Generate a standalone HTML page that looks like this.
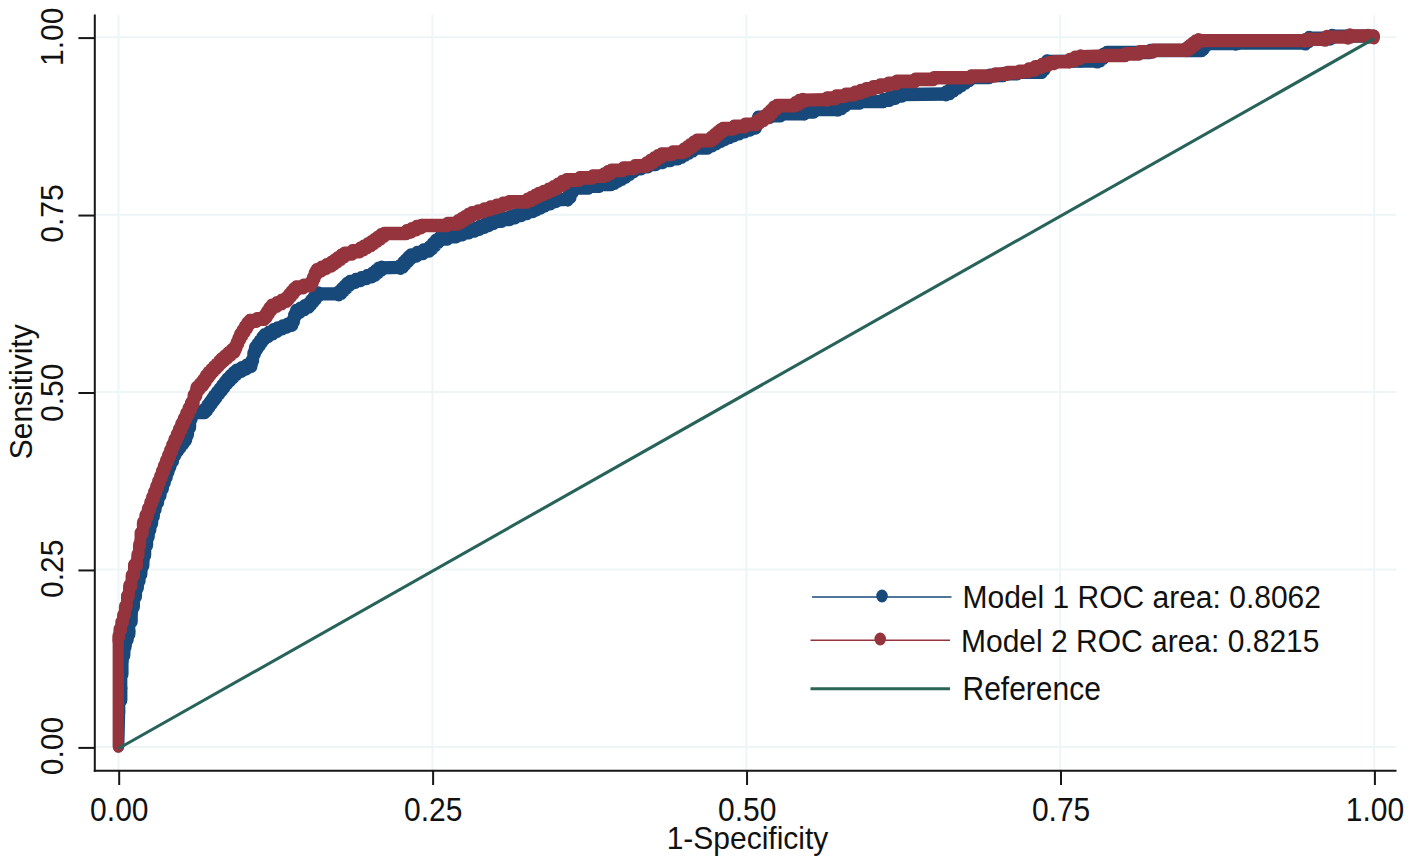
<!DOCTYPE html>
<html><head><meta charset="utf-8"><title>ROC</title>
<style>
html,body{margin:0;padding:0;background:#fff;}
body{width:1416px;height:860px;overflow:hidden;}
svg{display:block;}
text{font-family:"Liberation Sans",sans-serif;font-size:30px;fill:#111;}
</style></head><body>
<svg width="1416" height="860" viewBox="0 0 1416 860">
<rect width="1416" height="860" fill="#ffffff"/>
<g stroke="#edf5f6" stroke-width="2" fill="none">
<line x1="95" y1="747.00" x2="1396.5" y2="747.00"/>
<line x1="95" y1="569.55" x2="1396.5" y2="569.55"/>
<line x1="95" y1="392.10" x2="1396.5" y2="392.10"/>
<line x1="95" y1="214.65" x2="1396.5" y2="214.65"/>
<line x1="95" y1="37.20" x2="1396.5" y2="37.20"/>
<line x1="118.50" y1="15" x2="118.50" y2="770"/>
<line x1="432.43" y1="15" x2="432.43" y2="770"/>
<line x1="746.35" y1="15" x2="746.35" y2="770"/>
<line x1="1060.28" y1="15" x2="1060.28" y2="770"/>
<line x1="1374.20" y1="15" x2="1374.20" y2="770"/>
</g>
<g transform="scale(1,1.1875)" fill="none" stroke="#17497a" stroke-linejoin="round" stroke-linecap="round">
<polyline points="118.8,628.04 119.6,599.58" stroke-width="11.27"/>
<polyline points="119.6,599.58 119.6,589.47 121.7,589.47 121.7,579.37" stroke-width="11.46"/>
<polyline points="121.7,579.37 121.7,567.58 122.9,567.58 122.9,555.79" stroke-width="11.33"/>
<polyline points="122.9,555.79 122.9,551.58 124.6,551.58 124.6,547.37" stroke-width="11.70"/>
<polyline points="124.6,547.37 124.6,544.00 126.0,544.00 126.0,540.63" stroke-width="11.71"/>
<polyline points="126.0,540.63 126.0,538.32 127.8,538.32 127.8,536.00 127.8,533.68 129.5,533.68 129.5,531.37" stroke-width="12.07"/>
<polyline points="129.5,531.37 129.5,523.37 132.0,523.37 132.0,515.37" stroke-width="11.59"/>
<polyline points="132.0,515.37 132.0,510.95 134.1,510.95 134.1,506.53 134.1,502.11 136.2,502.11 136.2,497.68" stroke-width="11.78"/>
<polyline points="136.2,497.68 136.2,494.81 138.0,494.81 138.0,491.93 138.0,489.05 139.7,489.05 139.7,486.18 139.7,483.30 141.5,483.30 141.5,480.42" stroke-width="11.93"/>
<polyline points="141.5,480.42 141.5,476.00 143.6,476.00 143.6,471.58" stroke-width="11.78"/>
<polyline points="143.6,471.58 143.6,467.37 145.4,467.37 145.4,463.16 145.4,458.95 147.3,458.95 147.3,454.74" stroke-width="11.74"/>
<polyline points="147.3,454.74 147.3,451.87 148.9,451.87 148.9,449.01 148.9,446.15 150.5,446.15 150.5,443.28" stroke-width="11.87"/>
<polyline points="150.5,443.28 150.5,440.35 152.3,440.35 152.3,437.42 152.3,434.48 154.0,434.48 154.0,431.55 154.0,428.62 155.8,428.62 155.8,425.68" stroke-width="11.91"/>
<polyline points="155.8,425.68 155.8,422.75 158.2,422.75 158.2,419.82 158.2,416.88 160.6,416.88 160.6,413.95 160.6,411.02 163.0,411.02 163.0,408.08" stroke-width="12.12"/>
<polyline points="163.0,408.08 163.0,405.88 164.9,405.88 164.9,403.68 164.9,401.48 166.8,401.48 166.8,399.28 166.8,397.08 168.6,397.08 168.6,394.88 168.6,392.68 170.5,392.68 170.5,390.48" stroke-width="12.15"/>
<polyline points="170.5,390.48 170.5,387.94 173.0,387.94 173.0,385.39 173.0,382.84 175.5,382.84 175.5,380.29" stroke-width="12.26"/>
<polyline points="175.5,380.29 175.5,378.83 178.1,378.83 178.1,377.37 178.1,375.91 180.8,375.91 180.8,374.44 180.8,372.98 183.4,372.98 183.4,371.52 183.4,370.05 186.0,370.05 186.0,368.59" stroke-width="12.64"/>
<polyline points="186.0,368.59 186.0,365.64 188.1,365.64 188.1,362.69 188.1,359.75 190.2,359.75 190.2,356.80" stroke-width="12.03"/>
<polyline points="190.2,356.80 190.2,352.51 192.0,352.51 192.0,348.21" stroke-width="11.71"/>
<polyline points="192.0,348.21 192.0,347.16 205.0,347.16 205.0,346.11" stroke-width="11.76"/>
<polyline points="205.0,346.11 205.0,344.75 207.3,344.75 207.3,343.39 207.3,342.03 209.6,342.03 209.6,340.67 209.6,339.32 211.9,339.32 211.9,337.96 211.9,336.60 214.2,336.60 214.2,335.24" stroke-width="12.62"/>
<polyline points="214.2,335.24 214.2,333.83 216.8,333.83 216.8,332.41 216.8,331.00 219.4,331.00 219.4,329.58 219.4,328.17 222.0,328.17 222.0,326.75 222.0,325.34 224.6,325.34 224.6,323.92 224.6,322.51 227.2,322.51 227.2,321.09" stroke-width="12.65"/>
<polyline points="227.2,321.09 227.2,319.79 230.3,319.79 230.3,318.48 230.3,317.18 233.4,317.18 233.4,315.87 233.4,314.57 236.5,314.57 236.5,313.26" stroke-width="12.70"/>
<polyline points="236.5,313.26 236.5,312.22 241.5,312.22 241.5,311.19 241.5,310.15 246.4,310.15 246.4,309.11 246.4,308.07 251.4,308.07 251.4,307.03" stroke-width="12.40"/>
<polyline points="251.4,307.03 251.4,303.89 253.2,303.89 253.2,300.76 253.2,297.62 255.1,297.62 255.1,294.48" stroke-width="11.90"/>
<polyline points="255.1,294.48 255.1,293.12 257.4,293.12 257.4,291.75 257.4,290.38 259.8,290.38 259.8,289.01 259.8,287.64 262.1,287.64 262.1,286.27 262.1,284.91 264.4,284.91 264.4,283.54" stroke-width="12.62"/>
<polyline points="264.4,283.54 264.4,282.50 268.7,282.50 268.7,281.46 268.7,280.42 273.1,280.42 273.1,279.38 273.1,278.34 277.4,278.34 277.4,277.31" stroke-width="12.49"/>
<polyline points="277.4,277.31 277.4,276.52 282.4,276.52 282.4,275.73 282.4,274.95 287.3,274.95 287.3,274.16 287.3,273.38 292.3,273.38 292.3,272.59" stroke-width="12.19"/>
<polyline points="292.3,272.59 292.3,270.23 294.1,270.23 294.1,267.87 294.1,265.52 296.0,265.52 296.0,263.16" stroke-width="12.09"/>
<polyline points="296.0,263.16 296.0,262.12 300.3,262.12 300.3,261.08 300.3,260.04 304.7,260.04 304.7,259.00 304.7,257.96 309.0,257.96 309.0,256.93" stroke-width="12.49"/>
<polyline points="309.0,256.93 309.0,255.75 311.3,255.75 311.3,254.57 311.3,253.39 313.6,253.39 313.6,252.21 313.6,251.03 316.0,251.03 316.0,249.85 316.0,248.67 318.3,248.67 318.3,247.49" stroke-width="12.67"/>
<polyline points="318.3,247.49 338.8,247.49" stroke-width="11.20"/>
<polyline points="338.8,247.49 338.8,246.33 341.6,246.33 341.6,245.16 341.6,243.99 344.3,243.99 344.3,242.82 344.3,241.65 347.1,241.65 347.1,240.48 347.1,239.32 349.9,239.32 349.9,238.15" stroke-width="12.70"/>
<polyline points="349.9,238.15 349.9,237.36 355.5,237.36 355.5,236.57 355.5,235.78 361.1,235.78 361.1,234.99 361.1,234.20 366.7,234.20 366.7,233.41 366.7,232.62 372.3,232.62 372.3,231.83" stroke-width="12.10"/>
<polyline points="372.3,231.83 372.3,230.79 375.4,230.79 375.4,229.75 375.4,228.72 378.5,228.72 378.5,227.68 378.5,226.64 381.6,226.64 381.6,225.60" stroke-width="12.66"/>
<polyline points="381.6,225.60 400.5,225.18" stroke-width="11.28"/>
<polyline points="400.5,225.18 400.5,224.05 403.1,224.05 403.1,222.93 403.1,221.80 405.6,221.80 405.6,220.67 405.6,219.55 408.2,219.55 408.2,218.42 408.2,217.29 410.8,217.29 410.8,216.17" stroke-width="12.70"/>
<polyline points="410.8,216.17 410.8,215.13 417.0,215.13 417.0,214.09 417.0,213.05 423.2,213.05 423.2,212.01 423.2,210.98 429.4,210.98 429.4,209.94" stroke-width="12.23"/>
<polyline points="429.4,209.94 429.4,208.60 432.5,208.60 432.5,207.27 432.5,205.94 435.5,205.94 435.5,204.60 435.5,203.27 438.6,203.27 438.6,201.94" stroke-width="12.70"/>
<polyline points="438.6,201.94 438.6,200.97 447.6,200.97 447.6,200.00 447.6,199.03 456.7,199.03 456.7,198.06" stroke-width="11.92"/>
<polyline points="456.7,198.06 456.7,197.28 462.9,197.28 462.9,196.49 462.9,195.71 469.1,195.71 469.1,194.92 469.1,194.13 475.3,194.13 475.3,193.35" stroke-width="12.03"/>
<polyline points="475.3,193.35 475.3,192.55 479.9,192.55 479.9,191.75 479.9,190.95 484.6,190.95 484.6,190.15 484.6,189.35 489.2,189.35 489.2,188.55 489.2,187.75 493.9,187.75 493.9,186.95" stroke-width="12.25"/>
<polyline points="493.9,186.95 493.9,186.15 501.9,186.15 501.9,185.35 501.9,184.55 509.8,184.55 509.8,183.75" stroke-width="11.88"/>
<polyline points="509.8,183.75 509.8,182.88 515.6,182.88 515.6,182.02 515.6,181.16 521.4,181.16 521.4,180.29" stroke-width="12.14"/>
<polyline points="521.4,180.29 521.4,179.45 527.2,179.45 527.2,178.61 527.2,177.77 533.0,177.77 533.0,176.93" stroke-width="12.12"/>
<polyline points="533.0,176.93 533.0,176.14 537.0,176.14 537.0,175.35 537.0,174.57 541.0,174.57 541.0,173.78 541.0,173.00 545.0,173.00 545.0,172.21" stroke-width="12.35"/>
<polyline points="545.0,172.21 545.0,171.22 550.6,171.22 550.6,170.23 550.6,169.24 556.3,169.24 556.3,168.25" stroke-width="12.26"/>
<polyline points="556.3,168.25 567.9,167.92" stroke-width="11.30"/>
<polyline points="567.9,167.92 567.9,165.73 570.5,165.73 570.5,163.54 570.5,161.35 573.0,161.35 573.0,159.16" stroke-width="12.39"/>
<polyline points="573.0,159.16 573.0,158.23 588.8,158.23 588.8,157.31" stroke-width="11.61"/>
<polyline points="588.8,157.31 588.8,156.61 599.9,156.61 599.9,155.92 599.9,155.22 611.0,155.22 611.0,154.53" stroke-width="11.64"/>
<polyline points="611.0,154.53 611.0,153.68 614.7,153.68 614.7,152.84 614.7,152.00 618.3,152.00 618.3,151.16 618.3,150.32 622.0,150.32 622.0,149.47" stroke-width="12.46"/>
<polyline points="622.0,149.47 622.0,148.35 626.0,148.35 626.0,147.23 626.0,146.11 630.0,146.11 630.0,144.98 630.0,143.86 634.0,143.86 634.0,142.74" stroke-width="12.58"/>
<polyline points="634.0,142.74 634.0,141.82 641.3,141.82 641.3,140.91 641.3,140.00 648.5,140.00 648.5,139.09 648.5,138.18 655.8,138.18 655.8,137.26" stroke-width="12.02"/>
<polyline points="655.8,137.26 655.8,136.49 663.2,136.49 663.2,135.72 663.2,134.95 670.7,134.95 670.7,134.18 670.7,133.40 678.1,133.40 678.1,132.63" stroke-width="11.90"/>
<polyline points="678.1,132.63 678.1,131.75 681.8,131.75 681.8,130.86 681.8,129.98 685.6,129.98 685.6,129.09 685.6,128.21 689.3,128.21 689.3,127.33 689.3,126.44 693.0,126.44 693.0,125.56" stroke-width="12.48"/>
<polyline points="693.0,125.56 693.0,124.38 707.9,124.38 707.9,123.20" stroke-width="11.74"/>
<polyline points="707.9,123.20 707.9,122.29 712.2,122.29 712.2,121.38 712.2,120.46 716.6,120.46 716.6,119.55 716.6,118.64 720.9,118.64 720.9,117.73" stroke-width="12.40"/>
<polyline points="720.9,117.73 720.9,116.95 725.2,116.95 725.2,116.18 725.2,115.41 729.6,115.41 729.6,114.64 729.6,113.87 733.9,113.87 733.9,113.09" stroke-width="12.28"/>
<polyline points="733.9,113.09 733.9,112.27 739.4,112.27 739.4,111.45 739.4,110.63 744.9,110.63 744.9,109.81 744.9,108.99 750.5,108.99 750.5,108.17 750.5,107.35 756.0,107.35 756.0,106.53" stroke-width="12.14"/>
<polyline points="756.0,106.53 756.0,102.95 758.0,102.95 758.0,99.37" stroke-width="11.87"/>
<polyline points="758.0,99.37 758.0,98.74 770.0,98.74 770.0,98.11" stroke-width="11.57"/>
<polyline points="770.0,98.11 770.0,97.22 780.7,97.22 780.7,96.34" stroke-width="11.77"/>
<polyline points="780.7,96.34 780.7,95.83 804.6,95.83 804.6,95.33" stroke-width="11.35"/>
<polyline points="804.6,95.33 804.6,94.02 813.9,94.02 813.9,92.72" stroke-width="12.10"/>
<polyline points="813.9,92.72 813.9,92.29 838.0,92.29 838.0,91.87" stroke-width="11.32"/>
<polyline points="838.0,91.87 838.0,90.72 841.8,90.72 841.8,89.56 841.8,88.40 845.5,88.40 845.5,87.24" stroke-width="12.63"/>
<polyline points="845.5,87.24 845.5,86.57 860.0,86.57 860.0,85.89" stroke-width="11.53"/>
<polyline points="860.0,85.89 860.0,85.47 883.5,85.47 883.5,85.05" stroke-width="11.33"/>
<polyline points="883.5,85.05 883.5,84.14 889.7,84.14 889.7,83.23 889.7,82.32 895.9,82.32 895.9,81.40 895.9,80.49 902.1,80.49 902.1,79.58" stroke-width="12.13"/>
<polyline points="902.1,79.58 946.0,79.16" stroke-width="11.23"/>
<polyline points="946.0,79.16 946.0,78.04 950.0,78.04 950.0,76.91 950.0,75.79 954.0,75.79 954.0,74.67 954.0,73.54 958.0,73.54 958.0,72.42" stroke-width="12.58"/>
<polyline points="958.0,72.42 958.0,71.37 961.8,71.37 961.8,70.32 961.8,69.26 965.7,69.26 965.7,68.21 965.7,67.16 969.5,67.16 969.5,66.11" stroke-width="12.57"/>
<polyline points="969.5,66.11 969.5,65.14 989.5,65.14 989.5,64.17" stroke-width="11.54"/>
<polyline points="989.5,64.17 989.5,63.45 1003.5,63.45 1003.5,62.74 1003.5,62.02 1017.4,62.02 1017.4,61.31" stroke-width="11.56"/>
<polyline points="1017.4,61.31 1017.4,60.76 1042.0,60.76 1042.0,60.21" stroke-width="11.36"/>
<polyline points="1042.0,60.21 1042.0,58.11 1044.5,58.11 1044.5,56.00 1044.5,53.89 1047.0,53.89 1047.0,51.79" stroke-width="12.40"/>
<polyline points="1047.0,51.79 1080.6,51.45" stroke-width="11.24"/>
<polyline points="1080.6,51.45 1097.3,51.45" stroke-width="11.20"/>
<polyline points="1097.3,51.45 1097.3,50.41 1100.4,50.41 1100.4,49.38 1100.4,48.34 1103.5,48.34 1103.5,47.30 1103.5,46.26 1106.6,46.26 1106.6,45.22" stroke-width="12.66"/>
<polyline points="1106.6,45.22 1106.6,44.29 1150.0,44.29 1150.0,43.37" stroke-width="11.35"/>
<polyline points="1150.0,43.37 1150.0,42.57 1201.7,42.57 1201.7,41.77" stroke-width="11.31"/>
<polyline points="1201.7,41.77 1201.7,40.51 1203.8,40.51 1203.8,39.24 1203.8,37.98 1206.0,37.98 1206.0,36.72" stroke-width="12.62"/>
<polyline points="1206.0,36.72 1235.6,36.72" stroke-width="11.20"/>
<polyline points="1235.6,36.72 1238.0,36.21" stroke-width="11.91"/>
<polyline points="1238.0,36.21 1305.5,36.29" stroke-width="11.20"/>
<polyline points="1305.5,36.29 1305.5,34.23 1309.0,34.23 1309.0,32.17" stroke-width="12.62"/>
<polyline points="1309.0,32.17 1330.0,32.17" stroke-width="11.20"/>
<polyline points="1330.0,32.17 1330.0,31.33 1332.0,31.33 1332.0,30.48" stroke-width="12.70"/>
<polyline points="1332.0,30.48 1374.0,30.48" stroke-width="11.20"/>
</g>
<g transform="scale(1,1.1875)" fill="none" stroke="#95343c" stroke-linejoin="round" stroke-linecap="round">
<polyline points="118.2,628.38 118.2,538.95" stroke-width="11.20"/>
<polyline points="118.2,538.95 118.2,536.00 119.4,536.00 119.4,533.05" stroke-width="11.70"/>
<polyline points="119.4,533.05 119.4,530.11 121.2,530.11 121.2,527.16 121.2,524.21 123.0,524.21 123.0,521.26 123.0,518.32 124.8,518.32 124.8,515.37" stroke-width="11.92"/>
<polyline points="124.8,515.37 124.8,510.95 126.9,510.95 126.9,506.53 126.9,502.11 129.0,502.11 129.0,497.68" stroke-width="11.78"/>
<polyline points="129.0,497.68 129.0,493.37 131.5,493.37 131.5,489.05 131.5,484.74 134.0,484.74 134.0,480.42" stroke-width="11.89"/>
<polyline points="134.0,480.42 134.0,476.00 137.1,476.00 137.1,471.58" stroke-width="12.01"/>
<polyline points="137.1,471.58 137.1,467.37 138.8,467.37 138.8,463.16 138.8,458.95 140.4,458.95 140.4,454.74" stroke-width="11.68"/>
<polyline points="140.4,454.74 140.4,449.01 142.9,449.01 142.9,443.28" stroke-width="11.73"/>
<polyline points="142.9,443.28 142.9,440.35 145.3,440.35 145.3,437.42 145.3,434.48 147.8,434.48 147.8,431.55 147.8,428.62 150.2,428.62 150.2,425.68" stroke-width="12.13"/>
<polyline points="150.2,425.68 150.2,423.48 152.1,423.48 152.1,421.28 152.1,419.08 154.1,419.08 154.1,416.88 154.1,414.68 156.0,414.68 156.0,412.48 156.0,410.28 158.0,410.28 158.0,408.08" stroke-width="12.18"/>
<polyline points="158.0,408.08 158.0,405.88 160.0,405.88 160.0,403.68 160.0,401.48 161.9,401.48 161.9,399.28 161.9,397.08 163.9,397.08 163.9,394.88 163.9,392.68 165.9,392.68 165.9,390.48" stroke-width="12.19"/>
<polyline points="165.9,390.48 165.9,388.28 168.0,388.28 168.0,386.08 168.0,383.88 170.1,383.88 170.1,381.68 170.1,379.48 172.2,379.48 172.2,377.28 172.2,375.08 174.3,375.08 174.3,372.88" stroke-width="12.24"/>
<polyline points="174.3,372.88 174.3,370.67 176.7,370.67 176.7,368.46 176.7,366.25 179.0,366.25 179.0,364.04 179.0,361.83 181.3,361.83 181.3,359.62 181.3,357.41 183.7,357.41 183.7,355.20" stroke-width="12.32"/>
<polyline points="183.7,355.20 183.7,353.00 186.1,353.00 186.1,350.80 186.1,348.60 188.6,348.60 188.6,346.40 188.6,344.20 191.0,344.20 191.0,342.00 191.0,339.80 193.5,339.80 193.5,337.60" stroke-width="12.35"/>
<polyline points="193.5,337.60 193.5,333.01 196.5,333.01 196.5,328.42" stroke-width="11.97"/>
<polyline points="196.5,328.42 196.5,326.95 199.8,326.95 199.8,325.47 199.8,324.00 203.0,324.00 203.0,322.53" stroke-width="12.70"/>
<polyline points="203.0,322.53 203.0,320.74 205.8,320.74 205.8,318.95 205.8,317.16 208.6,317.16 208.6,315.37" stroke-width="12.58"/>
<polyline points="208.6,315.37 208.6,314.22 211.2,314.22 211.2,313.08 211.2,311.93 213.8,311.93 213.8,310.79 213.8,309.64 216.4,309.64 216.4,308.50 216.4,307.35 219.0,307.35 219.0,306.21 219.0,305.06 221.6,305.06 221.6,303.92" stroke-width="12.70"/>
<polyline points="221.6,303.92 221.6,302.74 224.8,302.74 224.8,301.56 224.8,300.38 228.1,300.38 228.1,299.20 228.1,298.02 231.3,298.02 231.3,296.84 231.3,295.66 234.6,295.66 234.6,294.48" stroke-width="12.68"/>
<polyline points="234.6,294.48 234.6,292.66 236.5,292.66 236.5,290.84 236.5,289.01 238.3,289.01 238.3,287.19 238.3,285.36 240.2,285.36 240.2,283.54" stroke-width="12.29"/>
<polyline points="240.2,283.54 240.2,281.97 242.5,281.97 242.5,280.40 242.5,278.83 244.8,278.83 244.8,277.26 244.8,275.69 247.2,275.69 247.2,274.13 247.2,272.56 249.5,272.56 249.5,270.99" stroke-width="12.55"/>
<polyline points="249.5,270.99 249.5,270.21 256.9,270.21 256.9,269.43 256.9,268.65 264.4,268.65 264.4,267.87" stroke-width="11.90"/>
<polyline points="264.4,267.87 264.4,266.32 266.9,266.32 266.9,264.76 266.9,263.20 269.3,263.20 269.3,261.64 269.3,260.08 271.8,260.08 271.8,258.53" stroke-width="12.58"/>
<polyline points="271.8,258.53 271.8,257.47 276.8,257.47 276.8,256.42 276.8,255.37 281.7,255.37 281.7,254.32 281.7,253.26 286.7,253.26 286.7,252.21" stroke-width="12.40"/>
<polyline points="286.7,252.21 286.7,251.04 289.0,251.04 289.0,249.87 289.0,248.71 291.3,248.71 291.3,247.54 291.3,246.37 293.7,246.37 293.7,245.20 293.7,244.03 296.0,244.03 296.0,242.86" stroke-width="12.68"/>
<polyline points="296.0,242.86 296.0,242.06 303.4,242.06 303.4,241.26 303.4,240.46 310.9,240.46 310.9,239.66" stroke-width="11.92"/>
<polyline points="310.9,239.66 310.9,237.84 312.8,237.84 312.8,236.01 312.8,234.19 314.6,234.19 314.6,232.36 314.6,230.54 316.5,230.54 316.5,228.72" stroke-width="12.29"/>
<polyline points="316.5,228.72 316.5,227.68 321.4,227.68 321.4,226.64 321.4,225.60 326.4,225.60 326.4,224.56 326.4,223.52 331.3,223.52 331.3,222.48" stroke-width="12.40"/>
<polyline points="331.3,222.48 331.3,221.51 334.6,221.51 334.6,220.53 334.6,219.55 337.8,219.55 337.8,218.57 337.8,217.59 341.1,217.59 341.1,216.61 341.1,215.63 344.4,215.63 344.4,214.65" stroke-width="12.62"/>
<polyline points="344.4,214.65 344.4,213.62 352.2,213.62 352.2,212.59 352.2,211.56 360.0,211.56 360.0,210.53" stroke-width="12.06"/>
<polyline points="360.0,210.53 360.0,209.64 363.7,209.64 363.7,208.76 363.7,207.87 367.5,207.87 367.5,206.99 367.5,206.11 371.2,206.11 371.2,205.22" stroke-width="12.48"/>
<polyline points="371.2,205.22 371.2,204.24 374.4,204.24 374.4,203.26 374.4,202.28 377.7,202.28 377.7,201.31 377.7,200.33 380.9,200.33 380.9,199.35 380.9,198.37 384.2,198.37 384.2,197.39" stroke-width="12.62"/>
<polyline points="384.2,197.39 384.2,196.59 406.5,196.59 406.5,195.79" stroke-width="11.45"/>
<polyline points="406.5,195.79 406.5,194.88 411.5,194.88 411.5,193.96 411.5,193.05 416.4,193.05 416.4,192.14 416.4,191.23 421.4,191.23 421.4,190.32" stroke-width="12.30"/>
<polyline points="421.4,190.32 421.4,189.81 447.4,189.81 447.4,189.31" stroke-width="11.34"/>
<polyline points="447.4,189.31 447.4,188.38 458.0,188.38 458.0,187.45" stroke-width="11.80"/>
<polyline points="458.0,187.45 458.0,186.57 461.4,186.57 461.4,185.68 461.4,184.80 464.8,184.80 464.8,183.92 464.8,183.03 468.2,183.03 468.2,182.15 468.2,181.26 471.6,181.26 471.6,180.38" stroke-width="12.54"/>
<polyline points="471.6,180.38 471.6,179.56 477.8,179.56 477.8,178.75 477.8,177.94 484.0,177.94 484.0,177.12 484.0,176.31 490.2,176.31 490.2,175.49" stroke-width="12.05"/>
<polyline points="490.2,175.49 490.2,174.71 496.4,174.71 496.4,173.92 496.4,173.14 502.6,173.14 502.6,172.35 502.6,171.56 508.8,171.56 508.8,170.78" stroke-width="12.03"/>
<polyline points="508.8,170.78 508.8,169.98 527.4,169.98 527.4,169.18" stroke-width="11.50"/>
<polyline points="527.4,169.18 527.4,168.38 531.1,168.38 531.1,167.58 531.1,166.78 534.8,166.78 534.8,165.98 534.8,165.18 538.5,165.18 538.5,164.38" stroke-width="12.42"/>
<polyline points="538.5,164.38 538.5,163.48 543.5,163.48 543.5,162.58 543.5,161.68 548.4,161.68 548.4,160.79 548.4,159.89 553.4,159.89 553.4,158.99" stroke-width="12.29"/>
<polyline points="553.4,158.99 553.4,157.89 557.7,157.89 557.7,156.80 557.7,155.71 562.1,155.71 562.1,154.61 562.1,153.52 566.4,153.52 566.4,152.42" stroke-width="12.52"/>
<polyline points="566.4,152.42 566.4,151.54 579.5,151.54 579.5,150.65 579.5,149.77 592.5,149.77 592.5,148.88" stroke-width="11.67"/>
<polyline points="592.5,148.88 592.5,148.38 604.0,148.38 604.0,147.87" stroke-width="11.51"/>
<polyline points="604.0,147.87 604.0,147.01 607.6,147.01 607.6,146.15 607.6,145.28 611.2,145.28 611.2,144.42" stroke-width="12.49"/>
<polyline points="611.2,144.42 611.2,143.48 623.0,143.48 623.0,142.54 623.0,141.60 634.7,141.60 634.7,140.66 634.7,139.72 646.5,139.72 646.5,138.78" stroke-width="11.75"/>
<polyline points="646.5,138.78 646.5,137.77 650.2,137.77 650.2,136.76 650.2,135.75 654.0,135.75 654.0,134.74 654.0,133.73 657.7,133.73 657.7,132.72 657.7,131.71 661.4,131.71 661.4,130.69" stroke-width="12.57"/>
<polyline points="661.4,130.69 661.4,129.85 672.5,129.85 672.5,129.01 672.5,128.17 683.7,128.17 683.7,127.33" stroke-width="11.72"/>
<polyline points="683.7,127.33 683.7,126.35 687.0,126.35 687.0,125.37 687.0,124.39 690.2,124.39 690.2,123.41 690.2,122.43 693.5,122.43 693.5,121.45 693.5,120.47 696.7,120.47 696.7,119.49" stroke-width="12.62"/>
<polyline points="696.7,119.49 696.7,118.32 711.6,118.32 711.6,117.14" stroke-width="11.74"/>
<polyline points="711.6,117.14 711.6,116.16 714.4,116.16 714.4,115.18 714.4,114.20 717.1,114.20 717.1,113.22 717.1,112.24 719.9,112.24 719.9,111.26 719.9,110.28 722.7,110.28 722.7,109.31" stroke-width="12.68"/>
<polyline points="722.7,109.31 722.7,108.39 733.9,108.39 733.9,107.48 733.9,106.57 745.0,106.57 745.0,105.66 745.0,104.74 756.2,104.74 756.2,103.83" stroke-width="11.76"/>
<polyline points="756.2,103.83 756.2,102.79 759.9,102.79 759.9,101.75 759.9,100.72 763.7,100.72 763.7,99.68 763.7,98.64 767.4,98.64 767.4,97.60" stroke-width="12.58"/>
<polyline points="767.4,97.60 767.4,96.29 770.5,96.29 770.5,94.99 770.5,93.68 773.6,93.68 773.6,92.38 773.6,91.07 776.7,91.07 776.7,89.77" stroke-width="12.70"/>
<polyline points="776.7,89.77 776.7,88.97 795.3,88.97 795.3,88.17" stroke-width="11.50"/>
<polyline points="795.3,88.17 795.3,87.20 799.0,87.20 799.0,86.23 799.0,85.26 802.7,85.26 802.7,84.29" stroke-width="12.55"/>
<polyline points="802.7,84.29 826.9,83.87" stroke-width="11.26"/>
<polyline points="826.9,83.87 826.9,82.78 836.0,82.78 836.0,81.68" stroke-width="11.99"/>
<polyline points="836.0,81.68 836.0,80.97 845.5,80.97 845.5,80.25 845.5,79.54 855.0,79.54 855.0,78.82" stroke-width="11.72"/>
<polyline points="855.0,78.82 855.0,78.06 860.5,78.06 860.5,77.31 860.5,76.55 866.0,76.55 866.0,75.79" stroke-width="12.09"/>
<polyline points="866.0,75.79 866.0,74.95 873.0,74.95 873.0,74.11 873.0,73.26 880.0,73.26 880.0,72.42" stroke-width="11.99"/>
<polyline points="880.0,72.42 880.0,71.71 888.2,71.71 888.2,70.99 888.2,70.27 896.5,70.27 896.5,69.56" stroke-width="11.79"/>
<polyline points="896.5,69.56 896.5,68.55 915.1,68.55 915.1,67.54" stroke-width="11.58"/>
<polyline points="915.1,67.54 915.1,66.82 933.7,66.82 933.7,66.11" stroke-width="11.47"/>
<polyline points="933.7,66.11 933.7,65.47 970.9,65.47 970.9,64.84" stroke-width="11.32"/>
<polyline points="970.9,64.84 970.9,64.00 995.1,64.00 995.1,63.16" stroke-width="11.45"/>
<polyline points="995.1,63.16 995.1,62.48 1007.3,62.48 1007.3,61.81 1007.3,61.14 1019.5,61.14 1019.5,60.46" stroke-width="11.59"/>
<polyline points="1019.5,60.46 1019.5,60.04 1028.5,60.04 1028.5,59.62" stroke-width="11.53"/>
<polyline points="1028.5,59.62 1028.5,58.59 1035.0,58.59 1035.0,57.56 1035.0,56.53 1041.6,56.53 1041.6,55.49" stroke-width="12.18"/>
<polyline points="1041.6,55.49 1041.6,54.69 1048.1,54.69 1048.1,53.89 1048.1,53.09 1054.6,53.09 1054.6,52.29" stroke-width="12.01"/>
<polyline points="1054.6,52.29 1054.6,51.92 1069.5,51.92 1069.5,51.54" stroke-width="11.38"/>
<polyline points="1069.5,51.54 1069.5,50.57 1075.0,50.57 1075.0,49.60 1075.0,48.63 1080.6,48.63 1080.6,47.66" stroke-width="12.26"/>
<polyline points="1080.6,47.66 1105.0,47.16" stroke-width="11.27"/>
<polyline points="1105.0,47.16 1105.0,46.74 1125.4,46.74 1125.4,46.32" stroke-width="11.35"/>
<polyline points="1125.4,46.32 1125.4,45.43 1139.2,45.43 1139.2,44.55 1139.2,43.66 1153.0,43.66 1153.0,42.78" stroke-width="11.65"/>
<polyline points="1153.0,42.78 1153.0,42.32 1186.9,42.32 1186.9,41.85" stroke-width="11.30"/>
<polyline points="1186.9,41.85 1186.9,40.89 1189.8,40.89 1189.8,39.94 1189.8,38.98 1192.7,38.98 1192.7,38.02 1192.7,37.06 1195.6,37.06 1195.6,36.11 1195.6,35.15 1198.5,35.15 1198.5,34.19" stroke-width="12.66"/>
<polyline points="1198.5,34.19 1305.0,34.27" stroke-width="11.20"/>
<polyline points="1305.0,34.27 1305.0,33.73 1309.0,33.73 1309.0,33.18" stroke-width="12.08"/>
<polyline points="1309.0,33.18 1325.0,33.09" stroke-width="11.22"/>
<polyline points="1325.0,33.09 1325.0,32.21 1327.0,32.21 1327.0,31.33" stroke-width="12.70"/>
<polyline points="1327.0,31.33 1348.0,31.33" stroke-width="11.20"/>
<polyline points="1348.0,31.33 1348.0,30.74 1350.0,30.74 1350.0,30.15" stroke-width="12.61"/>
<polyline points="1350.0,30.15 1368.0,30.15" stroke-width="11.20"/>
<polyline points="1368.0,30.15 1368.0,30.82 1374.0,30.82 1374.0,31.49" stroke-width="11.95"/>
</g>
<line x1="118.5" y1="748.5" x2="1374.2" y2="38.7" stroke="#28635a" stroke-width="3.1"/>
<g stroke="#161616" stroke-width="2" fill="none">
<line x1="94.8" y1="14.5" x2="94.8" y2="771.8"/>
<line x1="93.8" y1="770.8" x2="1396.5" y2="770.8"/>
<line x1="78.4" y1="747.90" x2="94.7" y2="747.90"/>
<line x1="78.4" y1="570.45" x2="94.7" y2="570.45"/>
<line x1="78.4" y1="393.00" x2="94.7" y2="393.00"/>
<line x1="78.4" y1="215.55" x2="94.7" y2="215.55"/>
<line x1="78.4" y1="38.10" x2="94.7" y2="38.10"/>
<line x1="119.20" y1="770.7" x2="119.20" y2="785"/>
<line x1="433.12" y1="770.7" x2="433.12" y2="785"/>
<line x1="747.05" y1="770.7" x2="747.05" y2="785"/>
<line x1="1060.98" y1="770.7" x2="1060.98" y2="785"/>
<line x1="1374.90" y1="770.7" x2="1374.90" y2="785"/>
</g>
<text transform="translate(119.30,821.2) scale(1,1.125)" text-anchor="middle">0.00</text>
<text transform="translate(433.23,821.2) scale(1,1.125)" text-anchor="middle">0.25</text>
<text transform="translate(747.15,821.2) scale(1,1.125)" text-anchor="middle">0.50</text>
<text transform="translate(1061.08,821.2) scale(1,1.125)" text-anchor="middle">0.75</text>
<text transform="translate(1375.00,821.2) scale(1,1.125)" text-anchor="middle">1.00</text>
<text transform="translate(63.3,746.10) rotate(-90) scale(1,1.075)" text-anchor="middle">0.00</text>
<text transform="translate(63.3,568.75) rotate(-90) scale(1,1.075)" text-anchor="middle">0.25</text>
<text transform="translate(63.3,392.70) rotate(-90) scale(1,1.075)" text-anchor="middle">0.50</text>
<text transform="translate(63.3,213.55) rotate(-90) scale(1,1.075)" text-anchor="middle">0.75</text>
<text transform="translate(63.3,36.70) rotate(-90) scale(1,1.075)" text-anchor="middle">1.00</text>
<text transform="translate(747.5,849.2) scale(1,1.06)" text-anchor="middle">1-Specificity</text>
<text transform="translate(31.5,391.8) rotate(-90) scale(1,1.07)" text-anchor="middle">Sensitivity</text>
<line x1="812" y1="596.9" x2="951.5" y2="596.9" stroke="#17497a" stroke-width="1.5"/>
<ellipse cx="882" cy="596.0" rx="5.8" ry="6.5" fill="#17497a"/>
<line x1="810.5" y1="640.3" x2="950" y2="640.3" stroke="#95343c" stroke-width="1.5"/>
<ellipse cx="880.2" cy="639.0" rx="5.8" ry="6.4" fill="#95343c"/>
<line x1="810.5" y1="688.8" x2="950" y2="688.8" stroke="#2b6557" stroke-width="3"/>
<text transform="translate(962.5,607.6) scale(1,1.055)">Model 1 ROC area: 0.8062</text>
<text transform="translate(961,652.3) scale(1,1.06)">Model 2 ROC area: 0.8215</text>
<text transform="translate(962.5,699.8) scale(1,1.08)">Reference</text>
</svg></body></html>
